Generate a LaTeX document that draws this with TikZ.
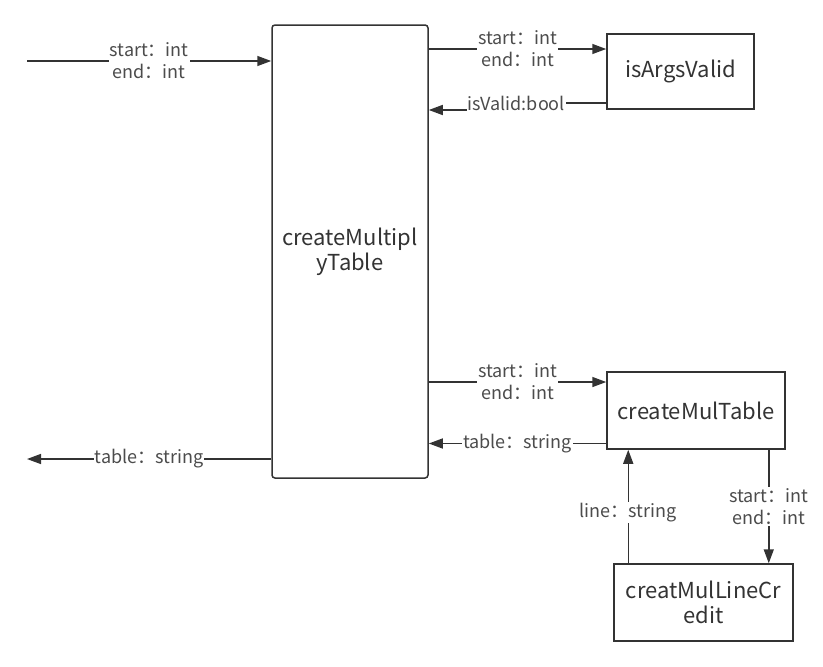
\documentclass[tikz,border=0pt]{standalone}
\usepackage{fontspec}
\setmainfont{Noto Sans CJK SC}
\usetikzlibrary{positioning,arrows.meta}

\begin{document}
\begin{tikzpicture}[x=1pt,y=-1pt,
  box/.style={rectangle,draw=black!80,line width=1.5pt,text=black!80,font=\fontsize{22}{25}\selectfont,align=center,inner sep=0pt},
  flow/.style={-{Triangle[length=14pt,width=10pt]},draw=black!80,line width=1.5pt},
  lbl/.style={fill=white,text=black!70,font=\fontsize{18}{22}\selectfont,align=center,inner sep=1pt}]
\useasboundingbox (0,0) rectangle (823,667);

% Main function
\node[box,rounded corners=3pt,minimum width=156pt,minimum height=453pt] (main) at (350,251.5) {createMultipl\\yTable};

% Argument check
\node[box,minimum width=147pt,minimum height=75pt] (isargs) at (680.5,71.5) {isArgsValid};

% Table
\node[box,minimum width=178pt,minimum height=77pt] (multable) at (696,410.5) {createMulTable};

% Line
\node[box,minimum width=179pt,minimum height=77pt] (mulline) at (703.5,602.5) {creatMulLineCr\\edit};

% Free ends
\coordinate (in) at (27,61);
\coordinate (out) at (27,459);
\coordinate (argsin) at ([yshift=22.5pt]isargs.west);
\coordinate (argsout) at ([yshift=-31.5pt]isargs.west);
\coordinate (tabin) at ([yshift=28.5pt]multable.west);
\coordinate (tabout) at ([yshift=-33pt]multable.west);
\coordinate (lineup) at ([xshift=22pt]multable.south west);
\coordinate (linedown) at ([xshift=-17pt]multable.south east);

% Arrows
\draw[flow] (in) -- (in -| main.west) node[lbl,midway] {start：int\\end：int};
\draw[flow] (main.east |- argsin) -- (argsin) node[lbl,midway] {start：int\\end：int};
\draw[flow] (argsout) -- ++(-90,0) node[lbl] {isValid:bool} |- ([yshift=141.5pt]main.east);
\draw[flow] (main.east |- tabin) -- (tabin) node[lbl,midway] {start：int\\end：int};
\draw[flow] (tabout) -- (tabout -| main.east) node[lbl,midway] {table：string};
\draw[flow] (out -| main.west) -- (out) node[lbl,midway] {table：string};
\draw[flow] (lineup |- mulline.north) -- (lineup) node[lbl,pos=0.45] {line：string};
\draw[flow] (linedown) -- (linedown |- mulline.north) node[lbl,midway] {start：int\\end：int};
\end{tikzpicture}
\end{document}
